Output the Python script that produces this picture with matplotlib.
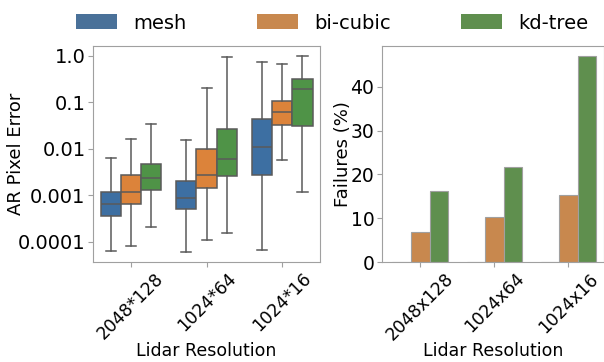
import numpy as np
import matplotlib
matplotlib.use("Agg")
import matplotlib.pyplot as plt
from matplotlib.patches import Patch

# resolucoes e metodos
resolucoes_box = ["2048*128", "1024*64", "1024*16"]
resolucoes_bar = ["2048x128", "1024x64", "1024x16"]
metodos = ["mesh", "bi-cubic", "kd-tree"]

# estatisticas do erro de pixel (whislo, q1, mediana, q3, whishi) por resolucao
erro_mesh = [
    [6.1e-5, 0.000357, 0.000637, 0.00117, 0.00624],
    [5.9e-5, 0.000497, 0.000887, 0.00203, 0.0152],
    [6.6e-5, 0.00269, 0.0108, 0.044, 0.743],
]
erro_bicubic = [
    [8.2e-5, 0.000637, 0.00116, 0.00278, 0.016],
    [0.000109, 0.00139, 0.00273, 0.0101, 0.2045],
    [0.00565, 0.0326, 0.0611, 0.109, 0.661],
]
erro_kdtree = [
    [0.00021, 0.00132, 0.00239, 0.00479, 0.0337],
    [0.000151, 0.00256, 0.00604, 0.0267, 0.952],
    [0.00116, 0.0316, 0.198, 0.325, 1.0],
]

# falhas (%)
falhas_mesh = [0, 0, 0]
falhas_bicubic = [6.9, 10.2, 15.3]
falhas_kdtree = [16.3, 21.8, 47.0]

yticks_log = [1.0, 0.1, 0.01, 0.001, 0.0001]
yticks_log_labels = ["1.0", "0.1", "0.01", "0.001", "0.0001"]

cores_box = ["#3d6fa2", "#dc833a", "#4f9347"]
cores_bar = ["#4a7199", "#c8884e", "#5f8f4e"]
cinza = "#5a5a5a"

plt.rcParams["font.family"] = "DejaVu Sans"
plt.rcParams["font.size"] = 12.5

fig = plt.figure(figsize=(6.04, 3.62), dpi=100)
ax1 = fig.add_axes([0.154, 0.276, 0.376, 0.597])
ax2 = fig.add_axes([0.6325, 0.276, 0.3675, 0.597])

# boxplot
largura = 0.267
x = np.arange(len(resolucoes_box))
for i, (dados, cor) in enumerate(zip([erro_mesh, erro_bicubic, erro_kdtree], cores_box)):
    stats = []
    for d in dados:
        stats.append({"whislo": d[0], "q1": d[1], "med": d[2], "q3": d[3], "whishi": d[4]})
    pos = x + (i - 1) * largura
    ax1.bxp(stats, positions=pos, widths=largura, patch_artist=True,
            showfliers=False, capwidths=largura * 0.5,
            boxprops=dict(facecolor=cor, edgecolor=cinza, linewidth=1.1),
            medianprops=dict(color=cinza, linewidth=1.1),
            whiskerprops=dict(color=cinza, linewidth=1.1),
            capprops=dict(color=cinza, linewidth=1.1))

ax1.set_yscale("log")
ax1.set_ylim(3.6e-5, 1.64)
ax1.set_yticks(yticks_log)
ax1.set_yticklabels(yticks_log_labels, fontsize=14)
ax1.minorticks_off()
ax1.set_xlim(-0.5, 2.5)
ax1.set_xticks(x)
ax1.set_xticklabels(resolucoes_box, rotation=45, fontsize=12.5)
ax1.set_ylabel("AR Pixel Error", fontsize=13)
ax1.set_xlabel("Lidar Resolution", fontsize=12.5, va="top")
ax1.yaxis.set_label_coords(-0.30, 0.5)
ax1.xaxis.set_label_coords(0.5, -0.37)

# barras de falhas
larg_bar = 0.25
for i, (vals, cor) in enumerate(zip([falhas_mesh, falhas_bicubic, falhas_kdtree], cores_bar)):
    ax2.bar(x + (i - 1) * larg_bar, vals, width=larg_bar, color=cor,
            edgecolor="#a0a0a0", linewidth=0.8)
ax2.set_ylim(0, 49.3)
ax2.set_xlim(-0.516, 2.48)
ax2.set_yticks([0, 10, 20, 30, 40])
ax2.tick_params(axis="y", labelsize=13.5)
ax2.set_xticks(x)
ax2.set_xticklabels(resolucoes_bar, rotation=45, fontsize=12.5)
ax2.set_ylabel("Failures (%)", fontsize=13)
ax2.set_xlabel("Lidar Resolution", fontsize=12.5, va="top")
ax2.yaxis.set_label_coords(-0.135, 0.5)
ax2.xaxis.set_label_coords(0.5, -0.37)

for ax in (ax1, ax2):
    for s in ax.spines.values():
        s.set_color("#a0a0a0")
    ax.tick_params(color="#a0a0a0", length=3.5, pad=2)

handles = [Patch(facecolor=c) for c in cores_bar]
fig.legend(handles, metodos, loc="center", bbox_to_anchor=(0.55, 0.936), ncol=3,
           frameon=False, fontsize=14, handlelength=2.1, handleheight=0.8,
           handletextpad=0.85, columnspacing=3.6)

fig.savefig("out.png", dpi=100)
